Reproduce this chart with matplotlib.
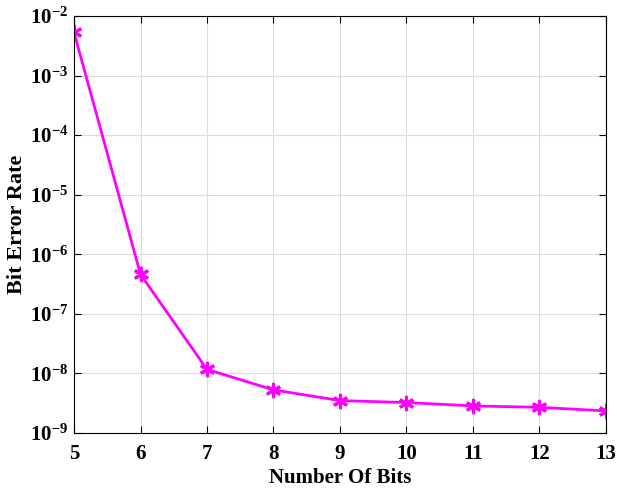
import matplotlib
matplotlib.use("Agg")
import matplotlib.pyplot as plt
import numpy as np

bits = [5, 6, 7, 8, 9, 10, 11, 12, 13]
ber = [5.3e-3, 4.6e-7, 1.17e-8, 5.3e-9, 3.5e-9, 3.25e-9, 2.85e-9, 2.7e-9, 2.35e-9]
ytick_exps = [-9, -8, -7, -6, -5, -4, -3, -2]

plt.rcParams['font.family'] = 'Liberation Serif'
plt.rcParams['mathtext.fontset'] = 'custom'
plt.rcParams['mathtext.rm'] = 'Liberation Serif:bold'
plt.rcParams['mathtext.bf'] = 'Liberation Serif:bold'
plt.rcParams['mathtext.it'] = 'Liberation Serif:bold'

fig = plt.figure(figsize=(6.17, 4.90), dpi=100)
ax = fig.add_axes([0.12, 0.1163, 0.862, 0.8510])

ax.plot(bits, ber, color='#FF00FF', linewidth=2, marker=(6, 2, 0), markersize=11,
        markeredgewidth=2.2)
ax.set_yscale('log')
ax.set_xlim(5, 13)
ax.set_ylim(1e-9, 1e-2)
ax.set_xticks(bits)
ax.set_xticklabels([str(b) for b in bits], fontsize=15, fontweight='bold')
ax.set_yticks([10.0**e for e in ytick_exps])
ax.set_yticklabels([r'$\mathbf{10^{%d}}$' % e for e in ytick_exps], fontsize=15)
ax.yaxis.set_minor_locator(matplotlib.ticker.NullLocator())
ax.tick_params(direction='in', length=5, width=0.8, top=True, right=True)
ax.tick_params(axis='x', pad=8)
ax.tick_params(axis='y', pad=4)
ax.grid(True, color='#dcdcdc', linewidth=0.8)
for s in ax.spines.values():
    s.set_linewidth(0.8)
ax.set_xlabel('Number Of Bits', fontsize=15, fontweight='bold', labelpad=3)
ax.set_ylabel('Bit Error Rate', fontsize=16, fontweight='bold', labelpad=2)

fig.savefig('out.png', dpi=100)
